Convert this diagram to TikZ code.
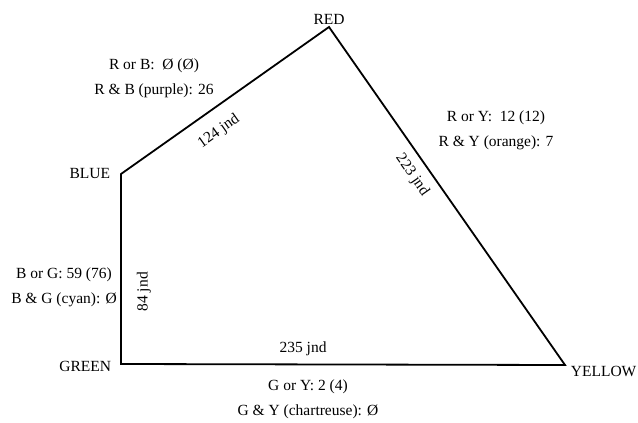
\documentclass[tikz,border=0pt]{standalone}
\usepackage{fontspec}
\setmainfont{Liberation Serif}
\usetikzlibrary{positioning}

\begin{document}
\begin{tikzpicture}[x=1pt, y=-1pt, line width=1.8pt, line join=miter,
  vname/.style={inner sep=1pt, font=\fontsize{15.5}{25}\selectfont},
  info/.style={inner sep=1pt, align=center, font=\fontsize{15.5}{25}\selectfont},
  jnd/.style={inner sep=1pt, font=\fontsize{15.5}{18}\selectfont}]
\useasboundingbox (0,0) rectangle (638,423);
\coordinate (r) at (329,27); \coordinate (b) at (121,174); \coordinate (g) at (121,364); \coordinate (y) at (565,365);
\node[vname, above=1pt of r] (rl) {RED}; \node[vname, left=9pt of b] (bl) {BLUE};
\node[vname, left=8pt of g, yshift=-2pt] (gl) {GREEN}; \node[vname, right=4pt of y, yshift=-6pt] (yl) {YELLOW};
\draw (g) -- node[jnd, sloped, pos=0.38, yshift=-23pt] (l84) {84 jnd} (b)
  -- node[jnd, sloped, pos=0.41, yshift=-21.7pt] (l124) {124 jnd} (r)
  -- node[jnd, sloped, pos=0.41, yshift=-16.5pt] (l223) {223 jnd} (y)
  -- node[jnd, pos=0.59, yshift=16pt] (l235) {235 jnd} cycle;
\node[info] (rb) at (154,78) {R or B:\ \ Ø (Ø)\\R \& B (purple): 26};
\node[info] (ry) at (496,130) {R or Y:\ \ 12 (12)\\R \& Y (orange): 7};
\node[info] (bg) at (64,287) {B or G: 59 (76)\\B \& G (cyan): Ø};
\node[info] (gy) at (308,399) {G or Y: 2 (4)\\G \& Y (chartreuse): Ø};
\end{tikzpicture}
\end{document}
